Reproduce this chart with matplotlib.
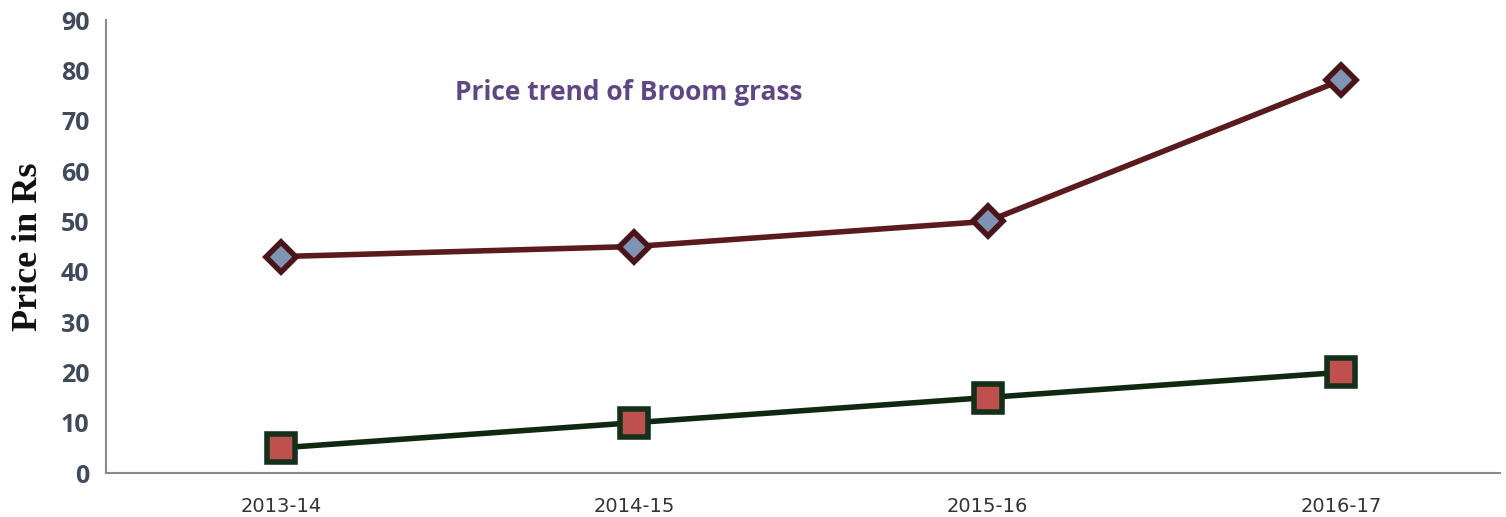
import matplotlib
matplotlib.use("Agg")
import matplotlib.pyplot as plt

years = ["2013-14", "2014-15", "2015-16", "2016-17"]
price_high = [43, 45, 50, 78]
price_low = [5, 10, 15, 20]
yticks = [0, 10, 20, 30, 40, 50, 60, 70, 80, 90]

fig = plt.figure(figsize=(15.06, 5.17), dpi=100)
ax = fig.add_axes([0.0704, 0.0851, 0.9256, 0.8762])

x = list(range(len(years)))
ax.plot(x, price_high, color="#5b1a1e", lw=4, marker="D", markersize=15,
        markerfacecolor="#7f93b5", markeredgecolor="#4a1418", markeredgewidth=4,
        solid_capstyle="round", zorder=3)
ax.plot(x, price_low, color="#102810", lw=4, marker="s", markersize=20,
        markerfacecolor="#c0504d", markeredgecolor="#13301a", markeredgewidth=4,
        zorder=3)

ax.set_xlim(-0.495, 3.45)
ax.set_ylim(0, 90)
ax.set_yticks(yticks)
ax.set_xticks(x)
ax.set_xticklabels(years, fontsize=14, color="#333333", family="DejaVu Sans")
ax.set_yticklabels([str(v) for v in yticks], fontsize=18, fontweight="bold",
                   color="#3f4a5c", family="Open Sans")
ax.tick_params(axis="both", length=0)
ax.tick_params(axis="x", pad=17)
ax.tick_params(axis="y", pad=12)

for s in ["top", "right"]:
    ax.spines[s].set_visible(False)
for s in ["left", "bottom"]:
    ax.spines[s].set_color("#8a8a8a")
    ax.spines[s].set_linewidth(1.5)

ax.set_ylabel("Price in Rs", fontsize=26, fontweight="bold",
              family="Liberation Serif", color="#111111", labelpad=11)

ax.text(0.985, 75.5, "Price trend of Broom grass", fontsize=19, fontweight="bold",
        color="#5e4784", family="Open Sans", ha="center", va="center")

fig.savefig("out.png", dpi=100)
